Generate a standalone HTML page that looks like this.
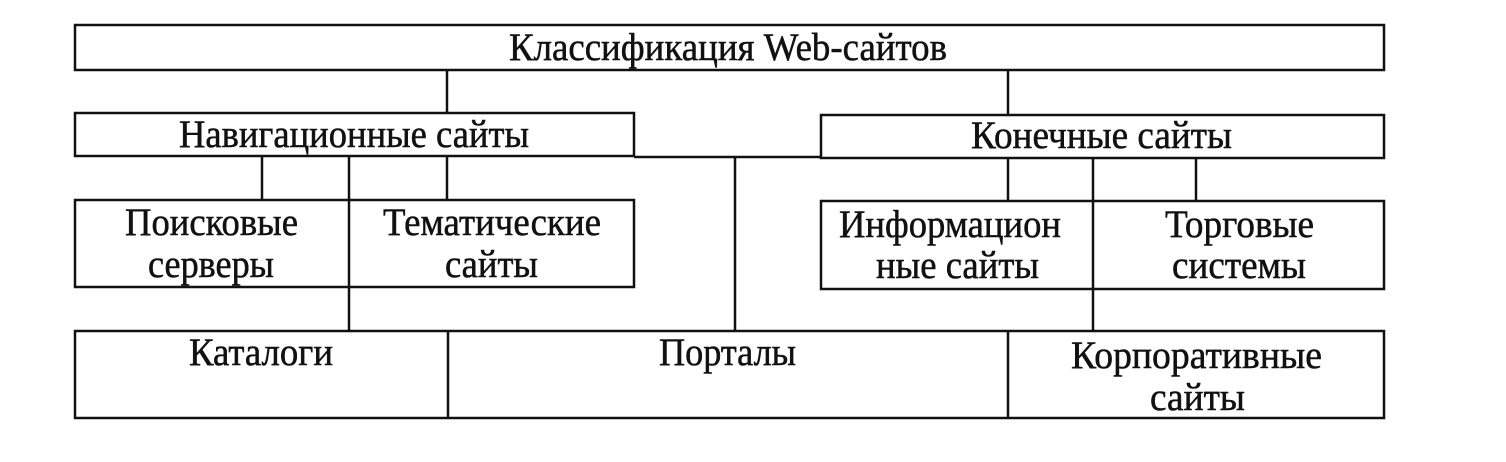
<!DOCTYPE html>
<html><head><meta charset="utf-8"><style>
html,body{margin:0;padding:0;background:#fff;}
svg{display:block}
text{font-family:"Liberation Serif",serif;font-size:39px;fill:#111;stroke:#111;stroke-width:0.5}
</style></head><body>
<svg width="1506" height="462" viewBox="0 0 1506 462" xmlns="http://www.w3.org/2000/svg">
<g stroke="#111" stroke-width="2.5" fill="none">
<rect x="75" y="25" width="1309" height="45"/>
<rect x="75" y="113" width="559" height="43"/>
<rect x="821" y="115" width="563" height="43"/>
<line x1="634" y1="157" x2="821" y2="157"/>
<rect x="75" y="200" width="559" height="87"/>
<rect x="821" y="201" width="563" height="88"/>
<rect x="75" y="331" width="1309" height="87"/>
<line x1="447" y1="70" x2="447" y2="113"/>
<line x1="1008" y1="70" x2="1008" y2="115"/>
<line x1="262" y1="156" x2="262" y2="200"/>
<line x1="447" y1="156" x2="447" y2="200"/>
<line x1="349" y1="156" x2="349" y2="331"/>
<line x1="735" y1="157" x2="735" y2="331"/>
<line x1="1008" y1="158" x2="1008" y2="201"/>
<line x1="1196" y1="158" x2="1196" y2="201"/>
<line x1="1093" y1="158" x2="1093" y2="332"/>
<line x1="448" y1="331" x2="448" y2="418"/>
<line x1="1008" y1="332" x2="1008" y2="418"/>
</g>
<g>
<text x="509" y="60" textLength="438" lengthAdjust="spacingAndGlyphs">Классификация Web-сайтов</text>
<text x="179" y="147" textLength="350" lengthAdjust="spacingAndGlyphs">Навигационные сайты</text>
<text x="971" y="148" textLength="261" lengthAdjust="spacingAndGlyphs">Конечные сайты</text>
<text x="125" y="235" textLength="173" lengthAdjust="spacingAndGlyphs">Поисковые</text>
<text x="148" y="277" textLength="126" lengthAdjust="spacingAndGlyphs">серверы</text>
<text x="383" y="235" textLength="218" lengthAdjust="spacingAndGlyphs">Тематические</text>
<text x="445" y="277" textLength="93" lengthAdjust="spacingAndGlyphs">сайты</text>
<text x="839" y="237" textLength="222" lengthAdjust="spacingAndGlyphs">Информацион</text>
<text x="876" y="278" textLength="163" lengthAdjust="spacingAndGlyphs">ные сайты</text>
<text x="1165" y="237" textLength="149" lengthAdjust="spacingAndGlyphs">Торговые</text>
<text x="1172" y="278" textLength="134" lengthAdjust="spacingAndGlyphs">системы</text>
<text x="189" y="365" textLength="144" lengthAdjust="spacingAndGlyphs">Каталоги</text>
<text x="659" y="365" textLength="137" lengthAdjust="spacingAndGlyphs">Порталы</text>
<text x="1071" y="368" textLength="251" lengthAdjust="spacingAndGlyphs">Корпоративные</text>
<text x="1150" y="410" textLength="95" lengthAdjust="spacingAndGlyphs">сайты</text>
</g>
</svg>
</body></html>
